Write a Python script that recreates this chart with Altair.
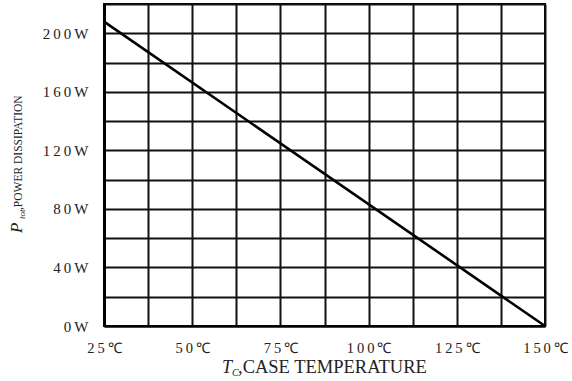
import altair as alt
import pandas as pd

# ---- data ----
case_temp = [25, 150]          # degC
power_diss = [208, 0]          # W

x_grid_values = [25, 37.5, 50, 62.5, 75, 87.5, 100, 112.5, 125, 137.5, 150]
x_label_values = [25, 50, 75, 100, 125, 150]
x_label_texts = ["25℃", "50℃", "75℃", "100℃", "125℃", "150℃"]

y_grid_values = [0, 20, 40, 60, 80, 100, 120, 140, 160, 180, 200, 220]
y_label_values = [0, 40, 80, 120, 160, 200]
y_label_texts = ["0W", "40W", "80W", "120W", "160W", "200W"]

x_title_sym, x_title_sub, x_title_rest = "T", "C", ",CASE TEMPERATURE"
y_title_sym, y_title_sub, y_title_rest = "P", "tot", ",POWER DISSIPATION"

FONT = "Liberation Serif"
SP = "\u2009"


def label_expr(values, texts):
    parts = []
    for v, t in zip(values, texts):
        spaced = SP.join(list(t))
        parts.append(f"datum.value == {v} ? '{spaced}'")
    return " : ".join(parts) + " : ''"


df = pd.DataFrame({"temp": case_temp, "power": power_diss})

W, H = 441, 322

line = alt.Chart(df).mark_line(color="black", strokeWidth=2.6).encode(
    x=alt.X(
        "temp:Q",
        scale=alt.Scale(domain=[25, 150], nice=False, zero=False),
        axis=alt.Axis(
            values=x_grid_values,
            labelExpr=label_expr(x_label_values, x_label_texts),
            grid=True,
            gridColor="#111111",
            gridWidth=2,
            ticks=False,
            domainColor="black",
            domainWidth=2,
            labelFont=FONT,
            labelFontSize=14.5,
            labelColor="#222222",
            labelPadding=15,
            labelFlush=False,
            labelOverlap=False,
            title=None,
        ),
    ),
    y=alt.Y(
        "power:Q",
        scale=alt.Scale(domain=[0, 220], nice=False),
        axis=alt.Axis(
            values=y_grid_values,
            labelExpr=label_expr(y_label_values, y_label_texts),
            grid=True,
            gridColor="#111111",
            gridWidth=2,
            ticks=False,
            domainColor="black",
            domainWidth=3,
            labelFont=FONT,
            labelFontSize=15,
            labelColor="#222222",
            labelPadding=16,
            labelFlush=False,
            labelOverlap=False,
            title=None,
        ),
    ),
)

one = pd.DataFrame({"k": [0]})


def txt(s, x, y, size, italic=False, angle=0):
    kw = dict(
        text=s, font=FONT, fontSize=size, color="#222222", align="left",
        baseline="alphabetic",
    )
    if italic:
        kw["fontStyle"] = "italic"
    if angle:
        kw["angle"] = angle
    return alt.Chart(one).mark_text(**kw).encode(x=alt.value(x), y=alt.value(y))


titles = [
    txt(x_title_sym, 118, 369, 18, italic=True),
    txt(x_title_sub, 128, 372, 10, italic=True),
    txt(x_title_rest, 134, 369, 18.5),
    txt(y_title_sym, -82, 229, 17, italic=True, angle=270),
    txt(y_title_sub, -79, 215, 9, italic=True, angle=270),
    txt(y_title_rest, -82, 206, 11.5, angle=270),
]

chart = alt.layer(line, *titles).properties(
    width=W,
    height=H,
    autosize=alt.AutoSizeParams(type="none"),
    padding={"left": 104, "top": 4, "right": 27, "bottom": 55},
    background="white",
).configure_view(stroke="black", strokeWidth=2)

chart.save("out.html", embed_options={"renderer": "svg", "actions": False})
